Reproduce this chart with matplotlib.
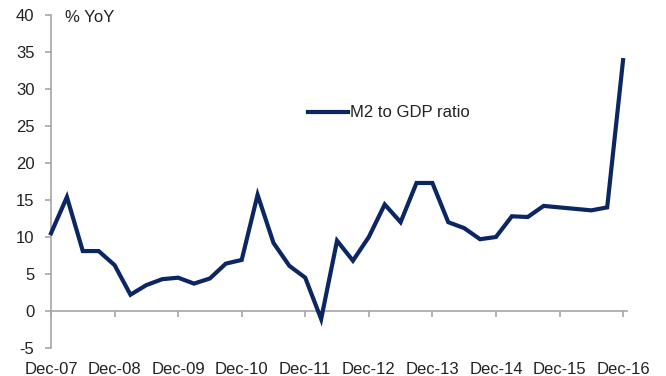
import numpy as np
import matplotlib.pyplot as plt

plt.rcParams['font.family'] = ['Liberation Sans', 'DejaVu Sans']

# quarterly M2/GDP ratio growth, % YoY, Dec-07 .. Dec-16
quarters = ['Dec-07', 'Mar-08', 'Jun-08', 'Sep-08', 'Dec-08', 'Mar-09', 'Jun-09', 'Sep-09',
            'Dec-09', 'Mar-10', 'Jun-10', 'Sep-10', 'Dec-10', 'Mar-11', 'Jun-11', 'Sep-11',
            'Dec-11', 'Mar-12', 'Jun-12', 'Sep-12', 'Dec-12', 'Mar-13', 'Jun-13', 'Sep-13',
            'Dec-13', 'Mar-14', 'Jun-14', 'Sep-14', 'Dec-14', 'Mar-15', 'Jun-15', 'Sep-15',
            'Dec-15', 'Mar-16', 'Jun-16', 'Sep-16', 'Dec-16']
m2_gdp = [10.5, 15.4, 8.1, 8.1, 6.2, 2.2, 3.5, 4.3,
          4.5, 3.7, 4.4, 6.4, 6.9, 15.7, 9.2, 6.1,
          4.5, -1.1, 9.5, 6.8, 10.0, 14.4, 12.0, 17.3,
          17.3, 12.0, 11.2, 9.7, 10.0, 12.8, 12.7, 14.2,
          14.0, 13.8, 13.6, 14.0, 33.9]
tick_labels = [q for q in quarters if q.startswith('Dec')]
yticks = list(range(-5, 45, 5))

navy = '#0b2663'
grey = '#a6a6a6'
txt = '#222222'
fs = 12

fig = plt.figure(figsize=(6.66, 3.76), dpi=100)
ax = fig.add_axes([0.0766, 0.0745, 0.8649, 0.8856])

x = np.arange(len(quarters))
ax.plot(x, m2_gdp, color=navy, lw=3, solid_joinstyle='miter', label='M2 to GDP ratio',
        clip_on=False, zorder=3)

ax.set_xlim(0, 36.25)
ax.set_ylim(-5, 40)

for s in ['top', 'right']:
    ax.spines[s].set_visible(False)
ax.spines['left'].set_color(grey)
ax.spines['bottom'].set_color(grey)
ax.spines['bottom'].set_position(('data', 0))
ax.spines['left'].set_linewidth(1.2)
ax.spines['bottom'].set_linewidth(1.2)

ax.set_yticks(yticks)
ax.set_yticklabels([str(v) for v in yticks])
ax.set_xticks([quarters.index(t) for t in tick_labels])
ax.set_xticklabels(tick_labels)
ax.tick_params(axis='y', direction='out', length=4, width=1.2, color=grey,
               labelsize=fs, labelcolor=txt, pad=8)
ax.tick_params(axis='x', direction='out', length=4, width=1.2, color=grey,
               labelsize=fs, labelcolor=txt, pad=33)

ax.text(0.024, 0.994, '% YoY', transform=ax.transAxes, fontsize=fs, color=txt,
        ha='left', va='center')

ax.legend(loc='center left', bbox_to_anchor=(0.446, 0.706), frameon=False, fontsize=fs,
          borderpad=0, borderaxespad=0, handlelength=2.4, handletextpad=0.15,
          labelcolor=txt)

fig.savefig('out.png', dpi=100)
